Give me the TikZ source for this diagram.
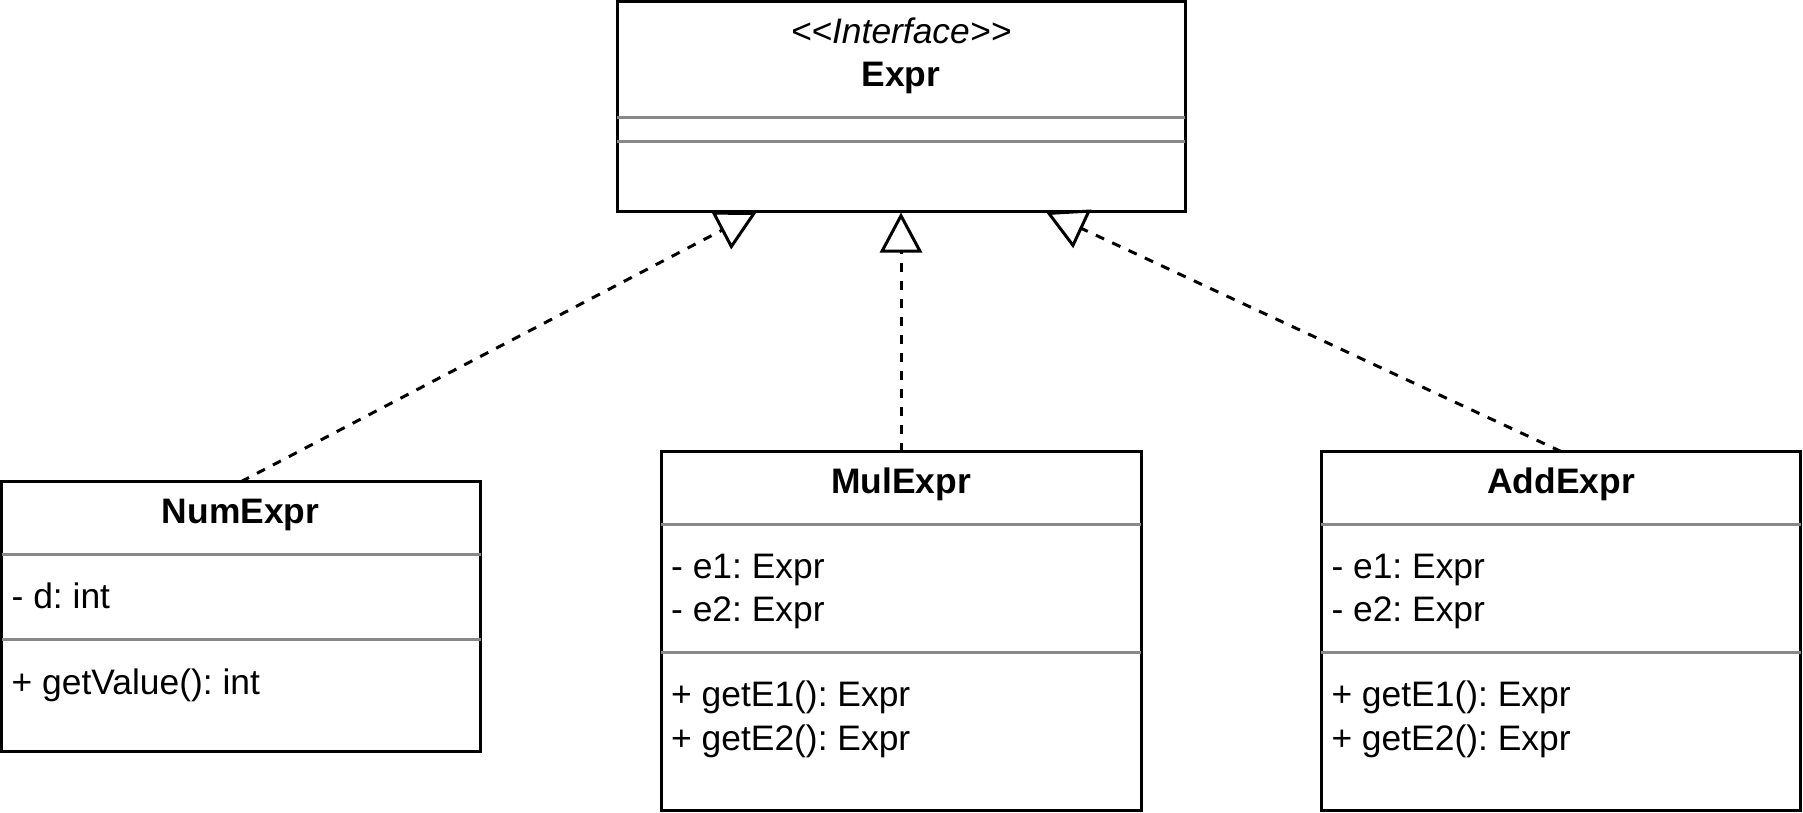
\documentclass[tikz,border=0pt]{standalone}
\usepackage{fontspec}
\setmainfont{Liberation Sans}
\usetikzlibrary{arrows.meta}
\definecolor{divgray}{RGB}{136,136,136}
\frenchspacing
\begin{document}
\begin{tikzpicture}[x=1pt,y=-1pt,
  box/.style={draw=black, line width=3pt, fill=white, inner sep=0pt, outer sep=0pt, anchor=north west},
  divider/.style={draw=divgray, line width=2.5pt},
  txt/.style={inner sep=0pt, anchor=base west, font=\fontsize{35.4}{43.5}\selectfont\frenchspacing},
  ttl/.style={inner sep=0pt, anchor=base, font=\fontsize{35.4}{43.5}\selectfont\bfseries},
  stereo/.style={inner sep=0pt, anchor=base, font=\fontsize{35.4}{43.5}\selectfont\itshape},
  realize/.style={line width=3pt, dash pattern=on 9pt off 9pt,
    -{Triangle[open, length=40pt, width=42pt, line width=3pt]}}]
\useasboundingbox (0,0) rectangle (1803,813);

% boxes
\node[box, minimum width=568pt, minimum height=210pt] (expr) at (617,1.5) {};
\node[box, minimum width=479pt, minimum height=269.3pt] (num) at (1.5,481.7) {};
\node[box, minimum width=480pt, minimum height=358.5pt] (mul) at (661,451.5) {};
\node[box, minimum width=479.5pt, minimum height=358.5pt] (add) at (1321.3,451.5) {};

% dividers
\draw[divider] (expr.west |- 0,117.3) -- (expr.east |- 0,117.3);
\draw[divider] (expr.west |- 0,141.5) -- (expr.east |- 0,141.5);
\draw[divider] (num.west |- 0,554.3) -- (num.east |- 0,554.3);
\draw[divider] (num.west |- 0,639.3) -- (num.east |- 0,639.3);
\draw[divider] (mul.west |- 0,524.7) -- (mul.east |- 0,524.7);
\draw[divider] (mul.west |- 0,652.7) -- (mul.east |- 0,652.7);
\draw[divider] (add.west |- 0,524.7) -- (add.east |- 0,524.7);
\draw[divider] (add.west |- 0,652.7) -- (add.east |- 0,652.7);

% texts
\node[stereo] (exprS) at (901,43.5) {<\kern0pt<Interface>\kern0pt>};
\node[ttl] (exprT) at (901,86.5) {Expr};

\node[ttl] (numT) at (240.5,523.3) {NumExpr};
\node[txt] (numA) at (11.5,608.3) {- d: int};
\node[txt] (numO) at (11.5,694.3) {+ getValue(): int};

\node[ttl] (mulT) at (901,493.3) {MulExpr};
\node[txt] (mulA1) at (671,578.3) {- e1: Expr};
\node[txt] (mulA2) at (671,621.7) {- e2: Expr};
\node[txt] (mulO1) at (671,706.7) {+ getE1(): Expr};
\node[txt] (mulO2) at (671,750.1) {+ getE2(): Expr};

\node[ttl] (addT) at (1561,493.3) {AddExpr};
\node[txt] (addA1) at (1331.3,578.3) {- e1: Expr};
\node[txt] (addA2) at (1331.3,621.7) {- e2: Expr};
\node[txt] (addO1) at (1331.3,706.7) {+ getE1(): Expr};
\node[txt] (addO2) at (1331.3,750.1) {+ getE2(): Expr};

% connector ends on Expr bottom edge
\coordinate (tipL) at (756.7,212);
\coordinate (tipM) at (901,212.5);
\coordinate (tipR) at (1046,212);

\draw[realize] (num.north) -- (tipL);
\draw[realize] (mul.north) -- (tipM);
\draw[realize] (add.north) -- (tipR);
\end{tikzpicture}
\end{document}
